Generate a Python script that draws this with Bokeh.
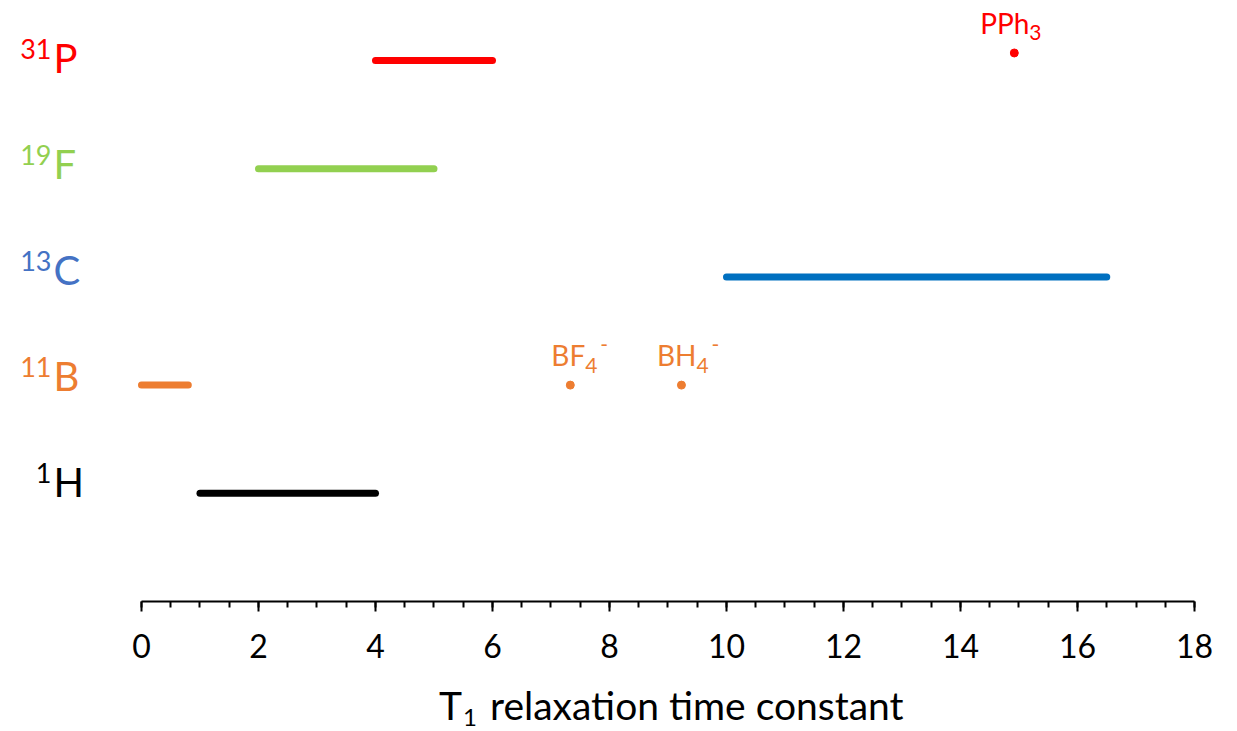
from bokeh.plotting import figure
from bokeh.models import ColumnDataSource, LinearAxis, FixedTicker
from bokeh.core.properties import value
from bokeh.embed import file_html
from bokeh.resources import INLINE

# Nuclei: mass number, element symbol, row on the chart
mass_numbers = ["1", "11", "13", "19", "31"]
symbols = ["H", "B", "C", "F", "P"]
rows = [1, 2, 3, 4, 5]
label_colors = ["#000000", "#ED7D31", "#4472C4", "#92D050", "#FF0000"]
line_colors = ["#000000", "#ED7D31", "#0070C0", "#92D050", "#FF0000"]

# Typical T1 range for each nucleus
t1_low = [1.0, 0.0, 10.0, 2.0, 4.0]
t1_high = [4.0, 0.8, 16.5, 5.0, 6.0]

# Individual compounds outside the typical ranges
cmpd_base = ["BF", "BH", "PPh"]
cmpd_sub = ["4", "4", "3"]
cmpd_sup = ["-", "-", ""]
cmpd_t1 = [7.33, 9.23, 14.92]
cmpd_row = [2.0, 2.0, 5.07]
cmpd_colors = ["#ED7D31", "#ED7D31", "#FF0000"]

x_ticks = [0, 2, 4, 6, 8, 10, 12, 14, 16, 18]
x_title_main = "T"
x_title_sub = "1"
x_title_rest = "relaxation time constant"

FONT = "Lato"

p = figure(width=1237, height=731, output_backend="svg", toolbar_location=None,
           x_range=(-2.41, 18.735), y_range=(-1.2015, 5.555),
           x_axis_type=None, y_axis_type=None, min_border=0)
p.outline_line_color = None
p.grid.visible = False
p.background_fill_color = "white"
p.border_fill_color = "white"

xaxis = LinearAxis(fixed_location=0, bounds=(0, 18))
xaxis.ticker = FixedTicker(ticks=x_ticks,
                           minor_ticks=[i * 0.5 for i in range(37)])
xaxis.axis_line_color = "black"
xaxis.axis_line_width = 2
xaxis.major_tick_line_color = "black"
xaxis.major_tick_line_width = 2
xaxis.major_tick_in = 0
xaxis.major_tick_out = 10
xaxis.minor_tick_line_color = "black"
xaxis.minor_tick_line_width = 2
xaxis.minor_tick_in = 0
xaxis.minor_tick_out = 6
xaxis.major_label_text_font = FONT
xaxis.major_label_text_font_size = "32px"
xaxis.major_label_text_color = "black"
xaxis.major_label_standoff = 22
p.add_layout(xaxis, "below")

ranges = ColumnDataSource(dict(x0=t1_low, x1=t1_high, y=rows, color=line_colors))
p.segment(x0="x0", y0="y", x1="x1", y1="y", color="color", line_width=7,
          line_cap="round", source=ranges)

# row labels sit slightly tighter than the rows themselves
sym_dy = [-11 + 2 * (r - 1) for r in rows]
sup_dy = [d - 9 for d in sym_dy]
labels = ColumnDataSource(dict(x=[0.0] * len(rows), y=rows, sup=mass_numbers,
                               sym=symbols, color=label_colors,
                               sym_dy=sym_dy, sup_dy=sup_dy))
p.text(x="x", y="y", text="sym", source=labels, text_color="color",
       text_font=value(FONT), text_font_size="40px", text_align="left",
       text_baseline="alphabetic", x_offset=-88, y_offset="sym_dy")
p.text(x="x", y="y", text="sup", source=labels, text_color="color",
       text_font=value(FONT), text_font_size="27px", text_align="right",
       text_baseline="alphabetic", x_offset=-90, y_offset="sup_dy")

cmpds = ColumnDataSource(dict(x=cmpd_t1, y=cmpd_row, base=cmpd_base,
                              sub=cmpd_sub, sup=cmpd_sup, color=cmpd_colors))
p.scatter(x="x", y="y", source=cmpds, size=8, color="color")
p.text(x="x", y="y", text="base", source=cmpds, text_color="color",
       text_font=value(FONT), text_font_size="28px", text_align="right",
       text_baseline="alphabetic", x_offset=15, y_offset=-30)
p.text(x="x", y="y", text="sub", source=cmpds, text_color="color",
       text_font=value(FONT), text_font_size="21px", text_align="left",
       text_baseline="alphabetic", x_offset=15, y_offset=-20)
p.text(x="x", y="y", text="sup", source=cmpds, text_color="color",
       text_font=value(FONT), text_font_size="21px", text_align="left",
       text_baseline="alphabetic", x_offset=30, y_offset=-41)

# axis title: T with subscript 1, centred under the axis
mid = (x_ticks[0] + x_ticks[-1]) / 2
p.text(x=[mid], y=[0], text=[x_title_main], text_color="black",
       text_font=value(FONT), text_font_size="39px", text_align="right",
       text_baseline="alphabetic", x_offset=-206, y_offset=103)
p.text(x=[mid], y=[0], text=[x_title_sub], text_color="black",
       text_font=value(FONT), text_font_size="24px", text_align="left",
       text_baseline="alphabetic", x_offset=-205, y_offset=116)
p.text(x=[mid], y=[0], text=[x_title_rest], text_color="black",
       text_font=value(FONT), text_font_size="39px", text_align="left",
       text_baseline="alphabetic", x_offset=-178, y_offset=103)

open("out.html", "w").write(file_html(p, INLINE))
